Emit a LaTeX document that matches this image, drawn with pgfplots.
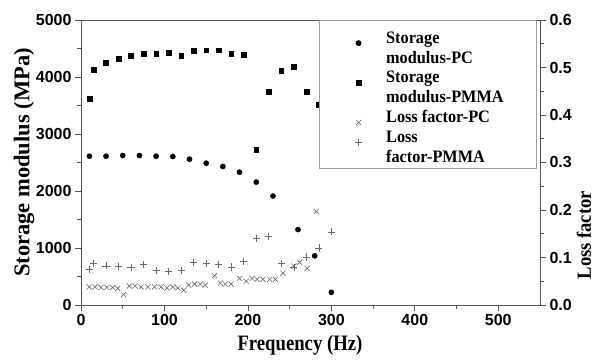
\documentclass[border=0pt]{standalone}
\usepackage{pgfplots}
\pgfplotsset{compat=1.18}
\usepackage{fontspec}
\setmainfont{Liberation Serif}
\newfontfamily\condserif[FakeStretch=0.85]{Liberation Serif}
\newfontfamily\legserif[FakeStretch=0.93]{Liberation Serif}
\newfontfamily\myticksf{Liberation Sans}
\definecolor{axgray}{RGB}{85,85,85}
\definecolor{mkgray}{RGB}{105,105,105}
\newcommand{\lst}{\rule[-6.15pt]{0pt}{20.5pt}}
\newcommand{\lent}[1]{\lst #1\hspace{-20pt}}
\newcommand{\tl}{\myticksf\bfseries\fontsize{16}{16}\selectfont}
\begin{document}
\begin{tikzpicture}
\pgfplotsset{
  base/.style={scale only axis, width=459pt, height=285pt, at={(0,0)}, anchor=south west,
    xmin=0, xmax=550,
    axis line style={axgray, line width=0.8pt},
    every tick/.style={axgray, line width=0.8pt},
    major tick length=6pt, minor tick length=3.5pt, tick align=outside,
    tick label style={font=\tl}},
}
\begin{axis}[base, ymin=0, ymax=5000,
  xtick={0,100,200,300,400,500}, minor x tick num=1,
  xticklabels={{\tl 0},{\tl 100},{\tl 200},{\tl 300},{\tl 400},{\tl 500}},
  ytick={0,1000,2000,3000,4000,5000}, minor y tick num=1,
  yticklabels={{\tl 0},{\tl 1000},{\tl 2000},{\tl 3000},{\tl 4000},{\tl 5000}},
  xtick pos=bottom, ytick pos=left,
  scaled y ticks=false,
  xlabel={\condserif\bfseries\fontsize{22}{22}\selectfont Frequency (Hz)},
  xlabel style={at={(axis description cs:0.477,-0.1404)}, anchor=center},
  ylabel={\bfseries\fontsize{22.5}{22.5}\selectfont Storage modulus (MPa)},
  ylabel style={at={(axis description cs:-0.1242,0.5)}, anchor=center},
]
\addplot[only marks, mark=*, black, mark size=2.6pt] coordinates {
(10,2610)(30,2610)(50,2622)(70,2622)(90,2610)(110,2605)(130,2558)(150,2488)(170,2430)(190,2330)(210,2156)(230,1911)(260,1323)(280,862)(300,222)};
\addplot[only marks, mark=square*, black, mark size=2.4pt] coordinates {
(10,3613)(15,4131)(30,4248)(45,4324)(60,4371)(75,4411)(90,4411)(105,4423)(120,4376)(135,4458)(150,4470)(165,4470)(180,4411)(195,4388)(210,2722)(225,3741)(240,4114)(255,4184)(270,3747)(285,3514)(300,3082)};
\end{axis}
\begin{axis}[base, ymin=0, ymax=0.6,
  axis y line*=right, axis x line=none,
  ytick={0,0.1,0.2,0.3,0.4,0.5,0.6}, minor y tick num=1,
  yticklabels={{\tl 0.0},{\tl 0.1},{\tl 0.2},{\tl 0.3},{\tl 0.4},{\tl 0.5},{\tl 0.6}},
  ylabel={\legserif\bfseries\fontsize{20}{20}\selectfont Loss factor},
  ylabel style={at={(axis description cs:1.0959,0.245)}, anchor=center},
  legend style={at={(axis description cs:1,1)}, xshift=-3pt, anchor=north east,
    draw=gray!75, line width=0.6pt, inner xsep=31pt, inner ysep=2pt,
    font=\legserif\bfseries\fontsize{17.5}{20.5}\selectfont,
    cells={anchor=base west, inner ysep=0pt}, column sep=22pt, row sep=0pt},
]
\addlegendimage{only marks, mark=*, black, mark size=2.6pt}
\addlegendentry{\rule[-6.15pt]{0pt}{25pt}Storage}
\addlegendimage{empty legend}
\addlegendentry{\lent{modulus-PC}}
\addlegendimage{only marks, mark=square*, black, mark size=2.4pt}
\addlegendentry{\lent{Storage}}
\addlegendimage{empty legend}
\addlegendentry{\lent{modulus-PMMA}}
\addplot[only marks, mark=x, mkgray, mark size=3.6pt, line width=0.6pt] coordinates {
(10,0.038)(17,0.038)(24,0.037)(31,0.037)(38,0.037)(44,0.035)(51,0.022)(58,0.040)(65,0.040)(72,0.038)(80,0.038)(88,0.038)(96,0.038)(103,0.036)(110,0.038)(116,0.036)(123,0.031)(129,0.042)(136,0.044)(143,0.044)(149,0.042)(160,0.062)(167,0.046)(173,0.044)(180,0.044)(190,0.056)(198,0.050)(205,0.056)(211,0.054)(218,0.054)(226,0.054)(233,0.054)(242,0.067)(255,0.082)(262,0.090)(271,0.077)(282,0.197)(292,0.371)};
\addlegendentry{\lent{Loss factor-PC}}
\addplot[only marks, mark=+, mkgray, mark size=3.6pt, line width=0.6pt] coordinates {
(10,0.0755)(15,0.087)(30,0.0825)(45,0.081)(60,0.079)(75,0.085)(90,0.073)(105,0.070)(120,0.073)(135,0.090)(150,0.087)(165,0.086)(180,0.080)(195,0.092)(210,0.140)(225,0.145)(240,0.0875)(255,0.079)(270,0.101)(285,0.120)(300,0.154)};
\addlegendentry{\lent{Loss}}
\addlegendimage{empty legend}
\addlegendentry{\lent{factor-PMMA}}
\end{axis}
\pgfresetboundingbox
\useasboundingbox (-81pt,-56pt) rectangle (513pt,305pt);
\end{tikzpicture}
\end{document}
